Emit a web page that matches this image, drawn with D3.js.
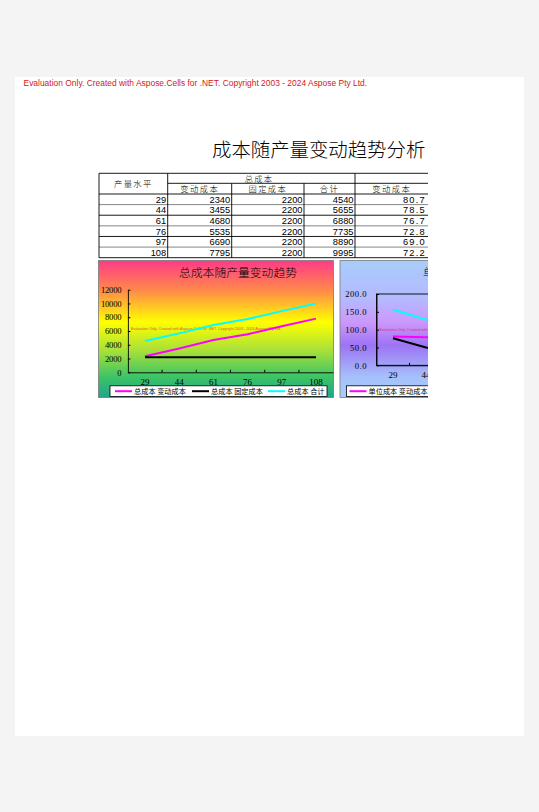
<!DOCTYPE html>
<html>
<head>
<meta charset="utf-8">
<script src="https://cdn.jsdelivr.net/npm/d3@7/dist/d3.min.js"></script>
<style>
	body { margin: 0; background: #f4f4f4; }
	svg { display: block; }
</style>
</head>
<body>
<div id="vis"></div>
<script>
// values
var outputLevels = [29, 44, 61, 76, 97, 108];
var variableCost = [2340, 3455, 4680, 5535, 6690, 7795];
var fixedCost = [2200, 2200, 2200, 2200, 2200, 2200];
var totalCost = [4540, 5655, 6880, 7735, 8890, 9995];
var unitVariableCost = [80.7, 78.5, 76.7, 72.8, 69.0, 72.2];
var unitFixedCost = [75.9, 50.0, 36.1, 28.9, 22.7, 20.4];
var unitTotalCost = [156.6, 128.5, 112.8, 101.8, 91.6, 92.5];

var totalTicks = [0, 2000, 4000, 6000, 8000, 10000, 12000];
var unitTicks = [0, 50, 100, 150, 200];
var totalSeriesNames = ['总成本 变动成本', '总成本 固定成本', '总成本 合计'];
var unitSeriesNames = ['单位成本 变动成本', '单位成本 固定成本', '单位成本 合计'];
var subHeaders = ['变动成本', '固定成本', '合计', '变动成本'];

var watermark = 'Evaluation Only. Created with Aspose.Cells for .NET. Copyright 2003 - 2024 Aspose Pty Ltd.';

var width = 539,
	height = 812;

var cjk = "'Noto Sans CJK SC', sans-serif",
	serif = "'Liberation Serif', 'DejaVu Serif', serif",
	sans = "'Liberation Sans', Arial, sans-serif";

var svg = d3.select('#vis')
	.append('svg')
	.attr('width', width)
	.attr('height', height);

var defs = svg.append('defs');

defs.append('clipPath')
	.attr('id', 'printArea')
	.append('rect')
	.attr('x', 0)
	.attr('y', 0)
	.attr('width', 428)
	.attr('height', height);

var addGradient = function(id, stops) {
	var grad = defs.append('linearGradient')
		.attr('id', id)
		.attr('x1', 0).attr('y1', 0)
		.attr('x2', 0).attr('y2', 1);
	grad.selectAll('stop')
		.data(stops)
		.enter().append('stop')
		.attr('offset', function(d) { return d[0]; })
		.attr('stop-color', function(d) { return d[1]; });
};

addGradient('warmGrad', [
	[0, '#ff3a88'], [0.22, '#ff8a4a'], [0.45, '#ffff00'],
	[0.66, '#a6e03a'], [0.85, '#3cc466'], [1, '#1fa58a']
]);
addGradient('coolGrad', [
	[0, '#a8ccfb'], [0.28, '#b4baff'], [0.45, '#cc98fb'],
	[0.62, '#9c74f4'], [0.85, '#a6c0fb'], [1, '#a8ccfb']
]);

// page
svg.append('rect')
	.attr('x', 15)
	.attr('y', 77)
	.attr('width', 509)
	.attr('height', 659)
	.attr('fill', '#fff');

svg.append('text')
	.attr('x', 23.5)
	.attr('y', 85.5)
	.attr('font-family', sans)
	.attr('font-size', 8.45)
	.attr('fill', '#d42020')
	.text(watermark);

var content = svg.append('g')
	.attr('clip-path', 'url(#printArea)');

content.append('text')
	.attr('x', 212)
	.attr('y', 157)
	.attr('font-family', cjk)
	.attr('font-size', 19.4)
	.attr('font-weight', 300)
	.attr('fill', '#000')
	.text('成本随产量变动趋势分析');

// ---- table ----
var colEdges = [99, 167.7, 231.7, 304, 355, 428.4];
var tableTop = 173.3,
	headerMid = 183.3,
	headerBottom = 194;

var rowScale = d3.scaleBand()
	.domain(d3.range(outputLevels.length))
	.range([headerBottom, 257.7]);

var table = content.append('g');
var lineColor = '#000';

var hline = function(x1, x2, y, color) {
	table.append('line')
		.attr('x1', x1).attr('x2', x2)
		.attr('y1', y).attr('y2', y)
		.attr('stroke', color || lineColor)
		.attr('stroke-width', 0.9);
};
var vline = function(x, y1, y2) {
	table.append('line')
		.attr('x1', x).attr('x2', x)
		.attr('y1', y1).attr('y2', y2)
		.attr('stroke', lineColor)
		.attr('stroke-width', 0.9);
};

hline(99, 428.4, tableTop);
hline(167.7, 428.4, headerMid);
hline(99, 428.4, headerBottom);
rowScale.domain().forEach(function(i) {
	hline(99, 428.4, rowScale(i) + rowScale.bandwidth(), i % 2 === 0 ? '#777' : '#000');
});
vline(99, tableTop, 257.7);
vline(167.7, tableTop, 257.7);
vline(231.7, headerMid, 257.7);
vline(304, headerMid, 257.7);
vline(355, tableTop, 257.7);

table.append('text')
	.attr('x', (99 + 167.7) / 2)
	.attr('y', 186.5)
	.attr('text-anchor', 'middle')
	.attr('font-family', cjk)
	.attr('font-size', 8.3)
	.attr('font-weight', 300)
	.attr('letter-spacing', 1.4)
	.text('产量水平');

table.append('text')
	.attr('x', 259)
	.attr('y', 181.5)
	.attr('text-anchor', 'middle')
	.attr('font-family', cjk)
	.attr('font-size', 8.3)
	.attr('font-weight', 300)
	.attr('letter-spacing', 1.2)
	.text('总成本');

table.selectAll('.subHeader')
	.data(subHeaders)
	.enter().append('text')
	.attr('class', 'subHeader')
	.attr('x', function(d, i) { return (colEdges[i + 1] + colEdges[i + 2]) / 2; })
	.attr('y', 192)
	.attr('text-anchor', 'middle')
	.attr('font-family', cjk)
	.attr('font-size', 8.3)
	.attr('font-weight', 300)
	.attr('letter-spacing', 1.4)
	.text(function(d) { return d; });

var tableColumns = [
	{ values: outputLevels, format: d3.format('d') },
	{ values: variableCost, format: d3.format('d') },
	{ values: fixedCost, format: d3.format('d') },
	{ values: totalCost, format: d3.format('d') },
	{ values: unitVariableCost, format: d3.format('.1f') }
];

tableColumns.forEach(function(col, c) {
	table.selectAll('.cell' + c)
		.data(col.values)
		.enter().append('text')
		.attr('class', 'cell' + c)
		.attr('x', colEdges[c + 1] - (c === 4 ? 2.5 : 1.5))
		.attr('y', function(d, i) { return rowScale(i) + rowScale.bandwidth() - 1.8; })
		.attr('text-anchor', 'end')
		.attr('font-family', sans)
		.attr('font-size', 9.3)
		.attr('letter-spacing', c === 4 ? 1.2 : 0)
		.text(function(d) { return col.format(d); });
});

// ---- charts ----
var drawChart = function(cfg) {
	var chart = content.append('g');

	chart.append('rect')
		.attr('x', cfg.left)
		.attr('y', 260.5)
		.attr('width', 235)
		.attr('height', 137)
		.attr('fill', 'url(#' + cfg.gradient + ')')
		.attr('stroke', '#7a7a7a')
		.attr('stroke-width', 0.8);

	chart.append('text')
		.attr('x', cfg.titleX)
		.attr('y', 276.5)
		.attr('text-anchor', cfg.titleAnchor)
		.attr('font-family', cjk)
		.attr('font-size', 11.8)
		.attr('font-weight', 300)
		.attr('fill', '#000')
		.text(cfg.title);

	var xScale = d3.scaleBand()
		.domain(outputLevels)
		.range([cfg.plotLeft, cfg.plotLeft + outputLevels.length * cfg.band]);

	var yScale = d3.scaleLinear()
		.domain(cfg.domain)
		.range([cfg.plotBottom, cfg.plotTop]);

	if (cfg.plotBorder) {
		chart.append('rect')
			.attr('x', xScale.range()[0])
			.attr('y', cfg.plotTop)
			.attr('width', xScale.range()[1] - xScale.range()[0])
			.attr('height', cfg.plotBottom - cfg.plotTop)
			.attr('fill', 'none')
			.attr('stroke', '#000')
			.attr('stroke-width', 0.9);
	}

	// watermark inside plot
	chart.append('text')
		.attr('x', cfg.plotLeft + 3)
		.attr('y', cfg.watermarkY)
		.attr('font-family', sans)
		.attr('font-size', 3.7)
		.attr('fill', cfg.watermarkColor)
		.text(watermark);

	var yAxis = d3.axisLeft(yScale)
		.tickValues(cfg.ticks)
		.tickSizeInner(-2.5)
		.tickSizeOuter(0)
		.tickPadding(cfg.tickPadding)
		.tickFormat(cfg.format);

	var yAxisG = chart.append('g')
		.attr('transform', 'translate(' + cfg.plotLeft + ',0)')
		.call(yAxis);
	yAxisG.selectAll('text')
		.attr('font-family', serif)
		.attr('font-size', cfg.tickFont)
		.attr('letter-spacing', cfg.tickSpacing)
		.attr('fill', '#000');
	yAxisG.select('.domain').attr('stroke', '#000').attr('stroke-width', 0.9);
	yAxisG.selectAll('line').attr('stroke', '#000');

	var xAxis = d3.axisBottom(xScale)
		.tickSize(0)
		.tickPadding(6)
		.tickSizeOuter(0);

	var xAxisG = chart.append('g')
		.attr('transform', 'translate(0,' + cfg.plotBottom + ')')
		.call(xAxis);
	xAxisG.selectAll('text')
		.attr('font-family', serif)
		.attr('font-size', 9)
		.attr('fill', '#000');
	xAxisG.select('.domain').attr('stroke', '#000').attr('stroke-width', 0.9);

	// category boundary ticks
	xAxisG.selectAll('.bound')
		.data(outputLevels.slice(1))
		.enter().append('line')
		.attr('class', 'bound')
		.attr('x1', function(d) { return xScale(d); })
		.attr('x2', function(d) { return xScale(d); })
		.attr('y1', 0)
		.attr('y2', -2.5)
		.attr('stroke', '#000');

	var line = d3.line()
		.x(function(d, i) { return xScale(outputLevels[i]) + xScale.bandwidth() / 2; })
		.y(function(d) { return yScale(d); });

	chart.selectAll('.series')
		.data(cfg.series)
		.enter().append('path')
		.attr('class', 'series')
		.attr('d', function(d) { return line(d); })
		.attr('fill', 'none')
		.attr('stroke', function(d, i) { return cfg.colors[i]; })
		.attr('stroke-width', 2);

	// legend
	var legend = chart.append('g')
		.attr('transform', 'translate(' + cfg.legendX + ',385.8)');

	legend.append('rect')
		.attr('width', cfg.legendWidth)
		.attr('height', 10.8)
		.attr('fill', '#fff')
		.attr('stroke', '#000')
		.attr('stroke-width', 0.8);

	var items = legend.selectAll('.item')
		.data(cfg.names)
		.enter().append('g')
		.attr('class', 'item')
		.attr('transform', function(d, i) { return 'translate(' + cfg.legendOffsets[i] + ',0)'; });

	items.append('line')
		.attr('x1', 0)
		.attr('x2', 17)
		.attr('y1', 5.4)
		.attr('y2', 5.4)
		.attr('stroke', function(d, i) { return cfg.colors[i]; })
		.attr('stroke-width', 2);

	items.append('text')
		.attr('x', 19)
		.attr('y', 8.4)
		.attr('font-family', cjk)
		.attr('font-size', 7.2)
		.attr('fill', '#000')
		.text(function(d) { return d; });
};

drawChart({
	left: 98.5,
	gradient: 'warmGrad',
	title: '总成本随产量变动趋势',
	titleX: 238,
	titleAnchor: 'middle',
	plotLeft: 127.9,
	band: 34.2,
	plotTop: 289.7,
	plotBottom: 372.3,
	domain: [0, 12000],
	ticks: totalTicks,
	format: d3.format('d'),
	tickPadding: 6.5,
	tickFont: 8.6,
	tickSpacing: -0.2,
	plotBorder: false,
	watermarkY: 329.5,
	watermarkColor: '#e0582a',
	series: [variableCost, fixedCost, totalCost],
	colors: ['#ff00ff', '#000000', '#00ffff'],
	names: totalSeriesNames,
	legendX: 110,
	legendWidth: 217,
	legendOffsets: [5, 82, 158]
});

drawChart({
	left: 340,
	gradient: 'coolGrad',
	title: '单位成本随产量变动趋势',
	titleX: 423,
	titleAnchor: 'start',
	plotLeft: 376.5,
	band: 33,
	plotTop: 294,
	plotBottom: 365.3,
	domain: [0, 200],
	ticks: unitTicks,
	format: d3.format('.1f'),
	tickPadding: 9.5,
	tickFont: 8.6,
	tickSpacing: 0.5,
	plotBorder: true,
	watermarkY: 330.5,
	watermarkColor: '#e0307a',
	series: [unitVariableCost, unitFixedCost, unitTotalCost],
	colors: ['#ff00ff', '#000000', '#00ffff'],
	names: unitSeriesNames,
	legendX: 346.5,
	legendWidth: 230,
	legendOffsets: [3, 86, 168]
});
</script>
</body>
</html>
